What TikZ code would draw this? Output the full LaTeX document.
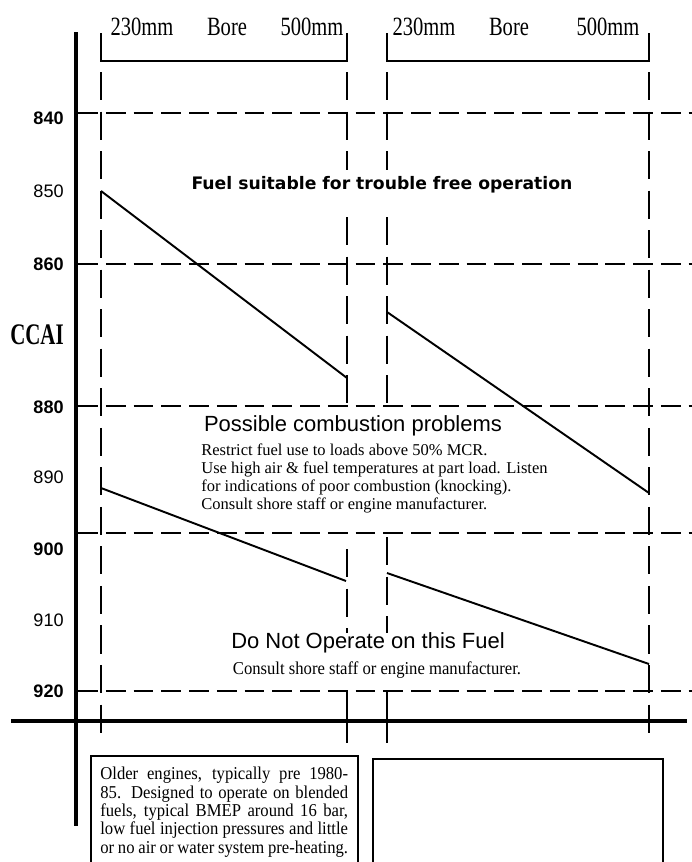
\documentclass[tikz,border=0pt]{standalone}
\usepackage{fontspec}
\setmainfont{Liberation Serif}
\setsansfont{Liberation Sans}
\newfontfamily\condserif[FakeStretch=0.78]{Liberation Serif}
\newfontfamily\ccaiserif[FakeStretch=0.7]{Liberation Serif}
\newfontfamily\narrowserif[FakeStretch=0.92]{Liberation Serif}
\newfontfamily\widesans{DejaVu Sans}
\usetikzlibrary{positioning}

\newcommand{\jline}[1]{\makebox[141pt][s]{#1}}

\begin{document}
\begin{tikzpicture}[x=0.02cm, y=-0.02cm,
	gridh/.style={line width=1.2pt, dash pattern=on 11.3pt off 4.5pt},
	gridv/.style={line width=1.2pt, dash pattern=on 16pt off 6.5pt},
	heavy/.style={line width=2.6pt},
	slope/.style={line width=1.1pt},
	brace/.style={line width=0.8pt},
	borelab/.style={font=\condserif\fontsize{15}{15}\selectfont, inner sep=0pt},
	ylab/.style={font=\sffamily\fontsize{10.3}{12}\selectfont, anchor=east, inner sep=0pt},
	zonehead/.style={font=\sffamily\fontsize{12.5}{14}\selectfont, inner sep=0pt},
	zonenote/.style={font=\fontsize{9.4}{10.2}\selectfont, align=left, inner sep=0pt},
	enginebox/.style={line width=1.2pt}
]
	\useasboundingbox (0,0) rectangle (692,862);

	\foreach \x in {101,649}
		\draw[gridv] (\x,72) -- (\x,743);
	\foreach \x/\s in {347/549,387/537}{
		\draw[gridv] (\x,72) -- (\x,170);
		\draw[gridv] (\x,217) -- (\x,403);
		\draw[gridv] (\x,\s) -- (\x,633);
		\draw[line width=1.2pt] (\x,692) -- (\x,743);
	}
	\foreach \y in {113,264,406,533,691}
		\draw[gridh] (78,\y) -- (692,\y);

	\coordinate (top) at (76,32);
	\coordinate (bot) at (76,826);
	\coordinate (lft) at (11,721);
	\coordinate (rgt) at (687,721);
	\draw[heavy] (top) -- (bot);
	\draw[heavy] (lft) -- (rgt);

	\foreach \v/\y in {840/118,860/264,880/407,900/549,920/691}
		\node[ylab, font=\sffamily\bfseries\fontsize{10.3}{12}\selectfont] (v\v) at (64,\y) {\v};
	\foreach \v/\y in {850/191,890/477,910/620}
		\node[ylab] (v\v) at (64,\y) {\v};
	\node[font=\ccaiserif\bfseries\fontsize{17}{17}\selectfont, inner sep=0pt] (ccai) at (37,335) {CCAI};

	\draw[brace] (101,33) |- (347,61) -- (347,33);
	\draw[brace] (387,33) |- (649,61) -- (649,33);
	\node[borelab] (lo1) at (142,27) {230mm};
	\node[borelab] (bore1) at (227,27) {Bore};
	\node[borelab] (hi1) at (312,27) {500mm};
	\node[borelab] (lo2) at (424,27) {230mm};
	\node[borelab] (bore2) at (509,27) {Bore};
	\node[borelab] (hi2) at (608,27) {500mm};

	\coordinate (ul1) at (101,191);
	\coordinate (ul2) at (347,378);
	\coordinate (ur1) at (387,312);
	\coordinate (ur2) at (649,493);
	\coordinate (ll1) at (101,488);
	\coordinate (ll2) at (346,581);
	\coordinate (lr1) at (387,573);
	\coordinate (lr2) at (649,664);
	\draw[slope] (ul1) -- (ul2);
	\draw[slope] (ur1) -- (ur2);
	\draw[slope] (ll1) -- (ll2);
	\draw[slope] (lr1) -- (lr2);

	\node[font=\widesans\bfseries\fontsize{9.8}{12}\selectfont, inner sep=0pt] (safe) at (382,185) {Fuel suitable for trouble free operation};
	\node[zonehead] (poss) at (353,426) {Possible combustion problems};
	\node[zonenote, anchor=north west] (possnote) at (201,444) {Restrict fuel use to loads above 50\% MCR.\\Use high air \& fuel temperatures at part load. Listen\\for indications of poor combustion (knocking).\\Consult shore staff or engine manufacturer.};
	\node[zonehead] (stop) at (368,643) {Do Not Operate on this Fuel};
	\node[font=\narrowserif\fontsize{10.3}{12}\selectfont, inner sep=0pt] (stopnote) at (377,670) {Consult shore staff or engine manufacturer.};

	\draw[enginebox] (91,862) |- (358,756) -- (358,862);
	\draw[enginebox] (373,862) |- (663,759) -- (663,862);
	\node[font=\narrowserif\fontsize{10.3}{10.4}\selectfont, align=left, inner sep=0pt, anchor=north west] (older) at (100,767) {\jline{Older engines, typically pre 1980-}\\\jline{85. Designed to operate on blended}\\\jline{fuels, typical BMEP around 16 bar,}\\\jline{low fuel injection pressures and little}\\\jline{or no air or water system pre-heating.}};
\end{tikzpicture}
\end{document}
